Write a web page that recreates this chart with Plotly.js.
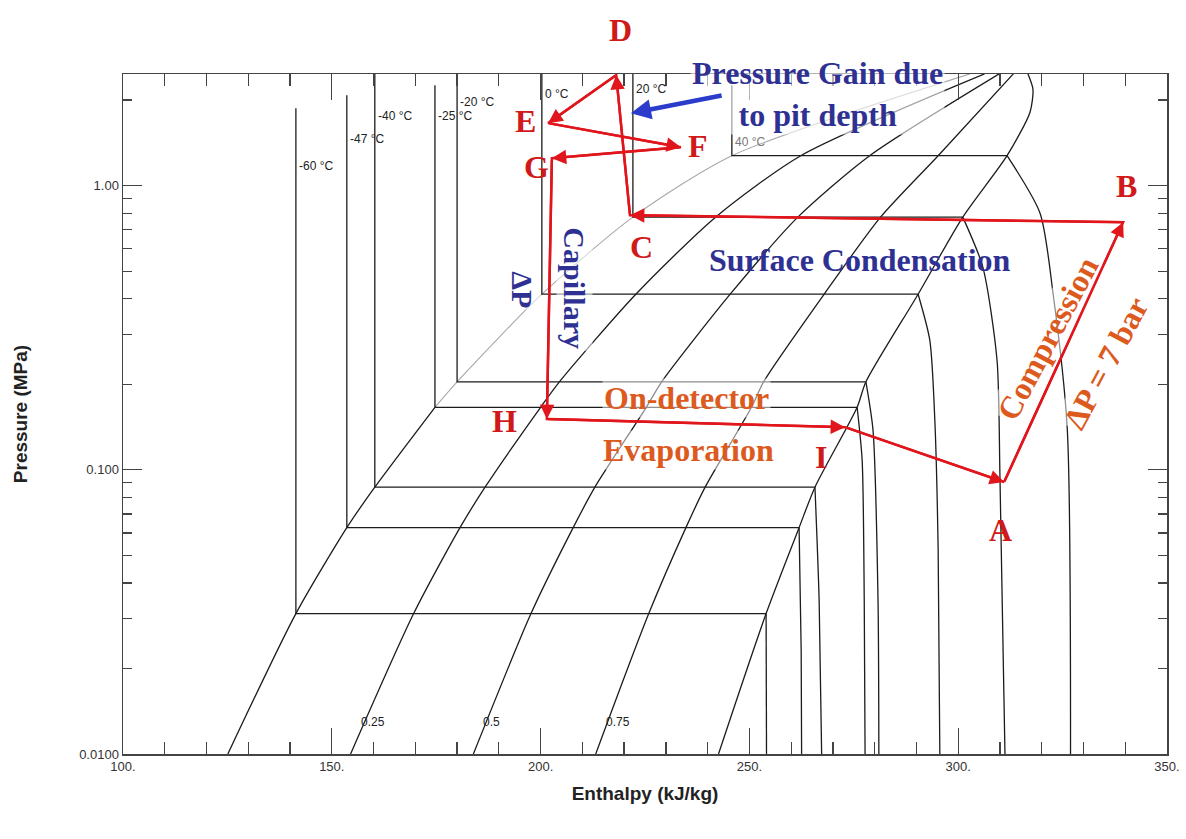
<!DOCTYPE html>
<html><head><meta charset="utf-8">
<script src="https://cdn.plot.ly/plotly-3.0.1.min.js"></script>
<style>html,body{margin:0;padding:0;background:#fff}</style>
</head><body><div id="chart" style="width:1186px;height:839px"></div>
<script>
// ---------- data (h in kJ/kg, P in MPa) ----------
// saturation dome
const satP    = [0.01, 0.0312, 0.0626, 0.0869, 0.166, 0.204, 0.415, 0.775, 1.275, 2.474];
const satLiqH = [125.1, 141.4, 153.6, 160.3, 174.7, 180.0, 200.3, 222.1, 245.8, 302.8];
const satVapP = [0.01, 0.0312, 0.0626, 0.0869, 0.166, 0.204, 0.415, 0.775, 1.275, 1.814, 2.186, 2.474];
const satVapH = [242.6, 254.0, 261.9, 265.7, 275.8, 277.9, 290.4, 301.1, 311.7, 317.2, 317.9, 316.7];
// constant-quality lines (same pressures as satP)
const qual25H = [154.5, 169.6, 180.7, 186.7, 200.0, 204.5, 222.8, 241.9, 262.3, 306.3];
const qual50H = [183.9, 197.7, 207.8, 213.0, 225.3, 229.0, 245.4, 261.6, 278.8, 309.8];
const qual75H = [213.2, 225.9, 234.8, 239.4, 250.5, 253.4, 267.9, 281.4, 295.2, 313.2];
const qualLabels = ['0.25', '0.5', '0.75'];
// isotherms
const isoNames   = ['-60 °C', '-47 °C', '-40 °C', '-25 °C', '-20 °C', '0 °C', '20 °C', '40 °C'];
const isoPsat    = [0.0312, 0.0626, 0.0869, 0.166, 0.204, 0.415, 0.775, 1.275];
const isoLiqH    = [141.4, 153.6, 160.3, 174.7, 180.0, 200.3, 222.1, 245.8];
const isoLiqTopP = [1.874, 2.08, 2.474, 2.257, 2.474, 2.474, 2.474, 2.257];
const isoVapH    = [254.0, 261.9, 265.7, 275.8, 277.9, 290.4, 301.1, 311.7];
const isoLabelP  = [1.171, 1.457, 1.756, 1.756, 1.967, 2.099, 2.186, 1.42];
// superheated-vapour part of each isotherm, down to 0.01 MPa
const tailH = [
  [254.1],
  [262.4, 262.5],
  [266.7, 267.3],
  [277.0, 277.5, 277.7],
  [279.6, 280.8, 281.0],
  [293.2, 294.4, 295.2, 295.6],
  [305.9, 309.3, 310.0, 311.2],
  [319.6, 322.7, 326.1, 326.9]
];
const tailP = [
  [0.01],
  [0.0232, 0.01],
  [0.0348, 0.01],
  [0.108, 0.0348, 0.01],
  [0.138, 0.0348, 0.01],
  [0.286, 0.150, 0.0522, 0.01],
  [0.517, 0.243, 0.0944, 0.01],
  [0.80, 0.419, 0.141, 0.01]
];
// refrigeration cycle
const cycleNames = ['A', 'B', 'C', 'D', 'E', 'F', 'G', 'H', 'I'];
const cycleH = [311.0, 339.5, 221.4, 218.1, 201.8, 233.6, 202.7, 201.5, 272.9];
const cycleP = [0.0906, 0.744, 0.787, 2.45, 1.66, 1.366, 1.249, 0.151, 0.1413];
// pit-depth arrow (tail -> head)
const pitArrowH = [243.7, 221.6];
const pitArrowP = [2.082, 1.799];
// axis ticks
const xTickVals = [100, 150, 200, 250, 300, 350];
const xTickText = ['100.', '150.', '200.', '250.', '300.', '350.'];
const yTickVals = [0.01, 0.1, 1];
const yTickText = ['0.0100', '0.100', '1.00'];
const yMinorVals = [0.02,0.03,0.04,0.05,0.06,0.07,0.08,0.09,0.2,0.3,0.4,0.5,0.6,0.7,0.8,0.9,2];

// ---------- styling ----------
const SANS = 'Liberation Sans, Arial, sans-serif';
const SERIF = 'Liberation Serif, Times New Roman, serif';
const BLACK = '#1c1c1c';
const LIGHT = '#a8a8a8';
const RED = '#e0161c';
const LETTER_RED = '#d01a1a';
const ORANGE = '#dc5a1e';
const NAVY = '#2e3192';
const BLUE_ARROW = '#2b3ccc';
const LW = 1.3;

function line(h, p, color, width, shape) {
  return {type: 'scatter', mode: 'lines', x: h, y: p,
    line: {color: color, width: width, shape: shape || 'linear', smoothing: 0.7},
    hoverinfo: 'skip', showlegend: false};
}
const traces = [];
// saturated liquid: lower part dark, upper part light grey
traces.push(line(satLiqH.slice(0, 5), satP.slice(0, 5), BLACK, LW, 'spline'));
traces.push(line(satLiqH.slice(4), satP.slice(4), LIGHT, 1.1, 'spline'));
traces.push(line(satVapH, satVapP, BLACK, LW, 'spline'));
[qual25H, qual50H, qual75H].forEach(q => traces.push(line(q, satP, BLACK, LW, 'spline')));
for (let i = 0; i < isoNames.length; i++) {
  traces.push(line([isoLiqH[i], isoLiqH[i], isoVapH[i]], [isoLiqTopP[i], isoPsat[i], isoPsat[i]], BLACK, LW));
  traces.push(line([isoVapH[i]].concat(tailH[i]), [isoPsat[i]].concat(tailP[i]), BLACK, LW, 'spline'));
}
// cycle path
traces.push(line(cycleH.concat([cycleH[0]]), cycleP.concat([cycleP[0]]), RED, 2.5));

const ann = [];
const L = v => Math.log10(v);
// isotherm labels
isoNames.forEach((t, i) => ann.push({x: isoLiqH[i], y: L(isoLabelP[i]), xref: 'x', yref: 'y',
  text: t, showarrow: false, xanchor: 'left', yanchor: 'middle', xshift: 1,
  font: {family: SANS, size: 12, color: i === isoNames.length - 1 ? '#777' : '#222'}}));
// quality labels near bottom
[qual25H, qual50H, qual75H].forEach((q, i) => ann.push({x: q[0], y: L(satP[0]), xref: 'x', yref: 'y',
  text: qualLabels[i], showarrow: false, xanchor: 'left', yanchor: 'middle', xshift: 8, yshift: 32,
  font: {family: SANS, size: 12, color: '#222'}}));
// text blocks
function txt(h, p, text, color, size, angle, bg) {
  return {x: h, y: L(p), xref: 'x', yref: 'y', text: text, showarrow: false,
    textangle: angle || 0, xanchor: 'center', yanchor: 'middle',
    bgcolor: bg || 'rgba(0,0,0,0)', borderpad: 1,
    font: {family: SERIF, size: size, color: color, weight: 'bold'}};
}
ann.push(txt(266.4, 2.099, 'Pressure Gain due<br>to pit depth', NAVY, 32, 0, 'rgba(255,255,255,0.6)'));
ann.push(txt(276.5, 0.547, 'Surface Condensation', NAVY, 32));
ann.push(txt(208.2, 0.436, 'Capillary', NAVY, 30, 90, 'rgba(255,255,255,0.55)'));
ann.push(txt(195.8, 0.432, 'ΔP', NAVY, 30, 90, 'rgba(255,255,255,0.55)'));
ann.push(txt(235.0, 0.1788, 'On-detector', ORANGE, 32, 0, 'rgba(255,255,255,0.5)'));
ann.push(txt(235.3, 0.1173, 'Evaporation', ORANGE, 32, 0, 'rgba(255,255,255,0.5)'));
ann.push(txt(321.5, 0.2907, 'Compression', ORANGE, 32, -62, 'rgba(255,255,255,0.5)'));
ann.push(txt(335.4, 0.2374, 'ΔP = 7 bar', ORANGE, 32, -62, 'rgba(255,255,255,0.5)'));
// cycle arrows
for (let k = 0; k < cycleNames.length; k++) {
  const a = k, b = (k + 1) % cycleNames.length;
  ann.push({x: cycleH[b], y: L(cycleP[b]), ax: cycleH[a], ay: L(cycleP[a]),
    xref: 'x', yref: 'y', axref: 'x', ayref: 'y', text: '', showarrow: true,
    arrowhead: 2, arrowsize: 1.2, arrowwidth: 2.4, arrowcolor: RED, standoff: 0});
}
// point letters
const labelShift = [[-4,-48],[3,36],[12,-32],[4,45],[-23,2],[17,1],[-15,-9],[-42,-2],[-24,-30]];
cycleNames.forEach((n, i) => ann.push({x: cycleH[i], y: L(cycleP[i]), xref: 'x', yref: 'y',
  text: n, showarrow: false, xanchor: 'center', yanchor: 'middle',
  xshift: labelShift[i][0], yshift: labelShift[i][1],
  font: {family: SERIF, size: 32, color: LETTER_RED, weight: 'bold'}}));
// blue arrow
ann.push({x: pitArrowH[1], y: L(pitArrowP[1]), ax: pitArrowH[0], ay: L(pitArrowP[0]),
  xref: 'x', yref: 'y', axref: 'x', ayref: 'y', text: '', showarrow: true,
  arrowhead: 2, arrowsize: 0.9, arrowwidth: 4.5, arrowcolor: BLUE_ARROW, standoff: 0});

const axisCommon = {showgrid: false, zeroline: false, showline: true, linecolor: '#444', linewidth: 1.5,
  mirror: 'allticks', ticks: 'inside', tickwidth: 1.3, tickcolor: '#444', tickmode: 'array'};
const layout = {
  width: 1186, height: 839,
  margin: {l: 123, r: 19, t: 74, b: 85},
  paper_bgcolor: '#fff', plot_bgcolor: '#fff',
  font: {family: SANS, color: '#222'},
  showlegend: false,
  xaxis: Object.assign({}, axisCommon, {
    range: [100, 350], ticklen: 26, tickvals: xTickVals, ticktext: xTickText,
    tickfont: {size: 13, color: '#333'},
    minor: {ticks: 'inside', ticklen: 12, tickwidth: 1.3, tickcolor: '#444', dtick: 10, tick0: 100},
    title: {text: '<b>Enthalpy (kJ/kg)</b>', font: {size: 19, color: '#222'}, standoff: 13}
  }),
  yaxis: Object.assign({}, axisCommon, {
    type: 'log', range: [-2, 0.393], ticklen: 19, tickvals: yTickVals, ticktext: yTickText,
    tickfont: {size: 13, color: '#333'},
    minor: {ticks: 'inside', ticklen: 9, tickwidth: 1.3, tickcolor: '#444', tickmode: 'array', tickvals: yMinorVals},
    title: {text: '<b>Pressure (MPa)</b>', font: {size: 19, color: '#222'}, standoff: 46}
  }),
  annotations: ann
};
Plotly.newPlot('chart', traces, layout, {displayModeBar: false, staticPlot: true});
</script></body></html>
